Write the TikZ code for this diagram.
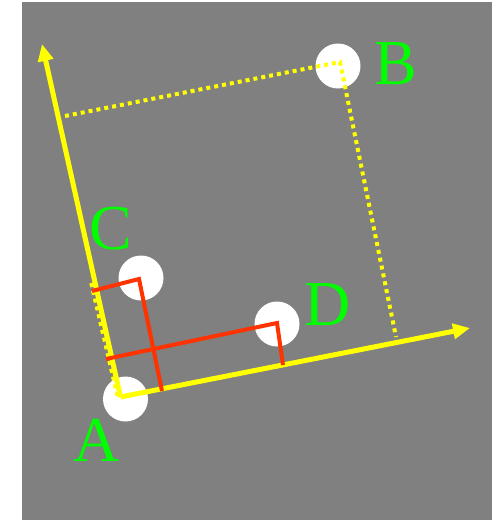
\documentclass[tikz,border=0pt]{standalone}
\usepackage{fontspec}
\setmainfont{Liberation Serif}
\usetikzlibrary{arrows.meta}
\definecolor{bggray}{RGB}{128,128,128}
\definecolor{ylw}{RGB}{255,255,0}
\definecolor{redl}{RGB}{255,51,0}
\definecolor{grn}{RGB}{0,255,0}
\tikzset{
  ball/.style={circle,fill=white,draw=none,minimum size=45pt,inner sep=0pt},
  lbl/.style={text=grn,font=\fontsize{64}{64}\selectfont,inner sep=0pt},
  axis/.style={draw=ylw,line width=5pt,-{Triangle[length=17pt,width=15pt]}},
  proj/.style={draw=redl,line width=4pt},
  dots/.style={draw=ylw,line width=4pt,dash pattern=on 4pt off 4pt},
}
\begin{document}
\begin{tikzpicture}[x=1pt,y=-1pt]
\useasboundingbox (0,0) rectangle (498,520);
\fill[white] (0,0) rectangle (498,520);
\fill[bggray] (22,2) rectangle (492,520);
% balls
\node[ball] (A) at (125.5,399) {};
\node[ball] (C) at (141,278) {};
\node[ball] (D) at (277,324) {};
\node[ball] (B) at (338,66) {};
% coordinates
\coordinate (O) at (120.5,397);
\coordinate (XT) at (470,328);
\coordinate (YT) at (42,44);
\coordinate (Cc) at (139,279);
\coordinate (Cx) at (162,391);
\coordinate (Cy) at (92,291);
\coordinate (Dc) at (277,323);
\coordinate (Dx) at (283,365);
\coordinate (Dy) at (106,359);
\coordinate (Bc) at (340,62);
\coordinate (Bx) at (396,337);
\coordinate (By) at (65,116);
\coordinate (Ys) at (117.5,396);
\coordinate (Ye) at (91,282);
% dotted along y axis
\draw[dots] (Ys) -- (Ye);
% axes
\draw[axis] (O) -- (XT);
\draw[axis] (O) -- (YT);
% projections
\draw[proj] (Cy) -- (Cc) -- (Cx);
\draw[proj] (Dy) -- (Dc) -- (Dx);
\draw[dots] (By) -- (Bc) -- (Bx);
% labels
\node[lbl] (LA) at (96.5,440) {A};
\node[lbl] (LB) at (396,64) {B};
\node[lbl] (LC) at (110.5,229) {C};
\node[lbl] (LD) at (328,305) {D};
\end{tikzpicture}
\end{document}
